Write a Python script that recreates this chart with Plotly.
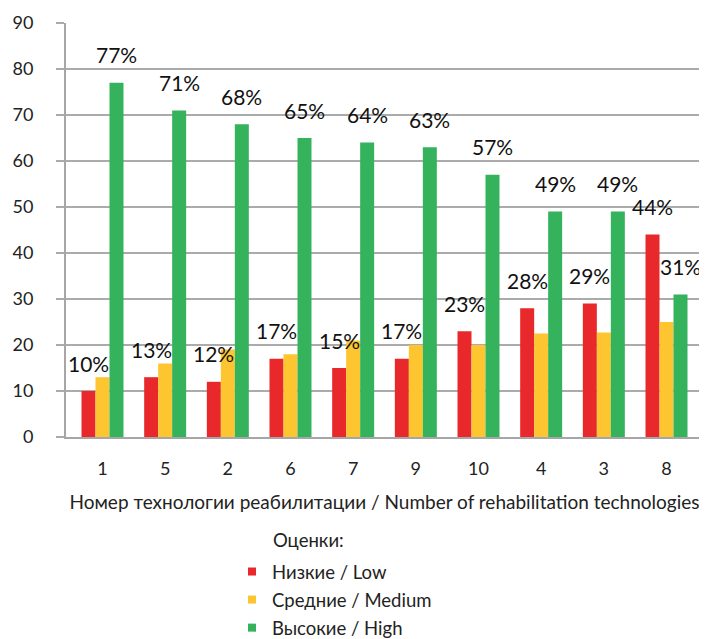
import plotly.graph_objects as go

categories = ["1", "5", "2", "6", "7", "9", "10", "4", "3", "8"]
low = [10, 13, 12, 17, 15, 17, 23, 28, 29, 44]
medium = [13, 16, 19, 18, 21, 20, 20, 22.5, 22.7, 25]
high = [77, 71, 68, 65, 64, 63, 57, 49, 49, 31]

series_names = ["Низкие / Low", "Средние / Medium", "Высокие / High"]
colors = ["#e8282b", "#fdc530", "#34b25c"]
legend_title = "Оценки:"
x_title = "Номер технологии реабилитации / Number of rehabilitation technologies"

axis_font = "Lato"
label_font = "Lato"

bargap = 0.33
# page has an 8px body margin; figure is laid out in its own pixel frame
OFF = 8
W, H = 707 - OFF, 639 - OFF
L, R, T, B = 66 - OFF, 4, 23 - OFF, 202
pw, ph = W - L - R, H - T - B

def px_x(px):
    return (px - OFF - L) / pw

def px_y(py):
    return (H - B - (py - OFF)) / ph

fig = go.Figure()
for name, vals, col in zip(series_names, [low, medium, high], colors):
    fig.add_trace(go.Bar(x=categories, y=vals, name=name, marker_color=col,
                         marker_line_width=0, showlegend=False))
# legend entries with small square markers
for i, (name, col) in enumerate(zip(series_names, colors)):
    fig.add_trace(go.Scatter(x=[None], y=[None], mode="markers", name=name,
                             marker=dict(symbol="square", size=8, color=col),
                             legendgroup=f"g{i}", showlegend=True))

# percentage labels: low above red bars, high above green bars
w = (1 - bargap) / 3
annotations = []
for i, (lv, hv) in enumerate(zip(low, high)):
    annotations.append(dict(x=i - w, y=lv, xref="x", yref="y", text=f"{lv}%",
                            showarrow=False, yanchor="middle", yshift=28,
                            font=dict(family=label_font, size=21, color="#111")))
    annotations.append(dict(x=i + w, y=hv, xref="x", yref="y", text=f"{hv}%",
                            showarrow=False, yanchor="middle", yshift=28,
                            font=dict(family=label_font, size=21, color="#111")))
annotations.append(dict(x=px_x(271), y=px_y(540), xref="paper", yref="paper",
                        text=legend_title, showarrow=False, xanchor="left",
                        yanchor="middle",
                        font=dict(family=axis_font, size=18.5, color="#222")))

fig.update_layout(
    width=W, height=H,
    margin=dict(l=L, r=R, t=T, b=B, autoexpand=False),
    paper_bgcolor="white", plot_bgcolor="white",
    barmode="group", bargap=bargap, bargroupgap=0,
    font=dict(family=axis_font, size=18, color="#222"),
    annotations=annotations,
    legend=dict(x=px_x(232), y=px_y(553), xanchor="left", yanchor="top",
                tracegroupgap=1, font=dict(family=axis_font, size=18.5, color="#222"),
                bgcolor="rgba(0,0,0,0)"),
    xaxis=dict(type="category", showline=True, linecolor="#a6a6a6", linewidth=2,
               ticks="", ticklabelstandoff=14, automargin=False,
               title=dict(text=x_title, standoff=18,
                          font=dict(family=axis_font, size=19, color="#222")),
               tickfont=dict(family=axis_font, size=18, color="#222")),
    yaxis=dict(range=[0, 90], dtick=10, showgrid=True, gridcolor="#ababab", gridwidth=1.5,
               showline=True, linecolor="#a6a6a6", linewidth=2, automargin=False,
               ticks="outside", ticklen=8, tickcolor="#ababab", tickwidth=1.5,
               ticklabelstandoff=19, zeroline=False,
               tickfont=dict(family=axis_font, size=18, color="#222")),
)

fig.write_html("out.html")
